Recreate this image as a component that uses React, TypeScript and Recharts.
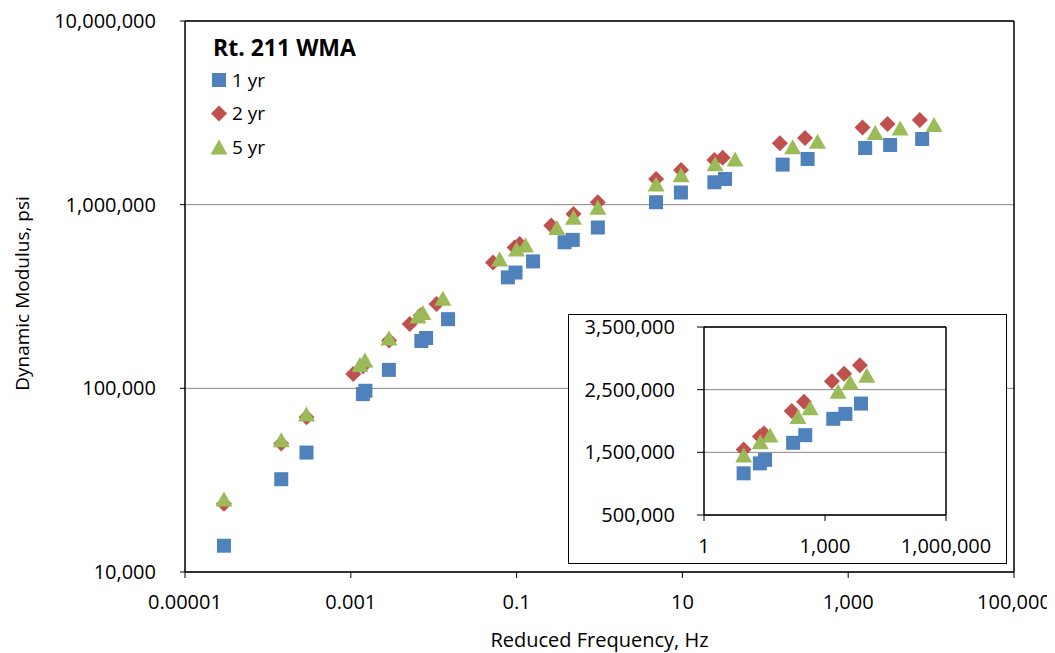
import { ScatterChart, Scatter, XAxis, YAxis, CartesianGrid, ReferenceLine } from 'recharts';

const BLUE = '#4F81BD';
const RED = '#C0504D';
const GREEN = '#9BBB59';

const freq1yr = [2.95e-5, 1.45e-4, 2.92e-4, 1.4e-3, 1.5e-3, 2.88e-3, 7.1e-3, 8.1e-3, 1.49e-2, 7.85e-2, 0.097, 0.158, 0.379, 0.476, 0.955, 4.8, 9.6, 24.3, 32.7, 162, 324, 1603, 3206, 7800];
const mod1yr = [13900, 32000, 44700, 93000, 97000, 126000, 181000, 188000, 238000, 402000, 427000, 491000, 624000, 643000, 751000, 1031000, 1165000, 1324000, 1380000, 1652000, 1774000, 2035000, 2113000, 2278000];

const freq2yr = [2.95e-5, 1.45e-4, 2.92e-4, 1.07e-3, 1.4e-3, 2.9e-3, 5.14e-3, 7.0e-3, 1.08e-2, 5.19e-2, 0.0946, 0.109, 0.262, 0.486, 0.955, 4.82, 9.64, 24.3, 30.6, 150, 301, 1487, 2980, 7310];
const mod2yr = [23500, 50000, 69500, 119500, 132000, 182000, 224000, 250000, 288000, 485000, 585000, 611000, 769000, 889000, 1030000, 1380000, 1546000, 1753000, 1800000, 2158000, 2307000, 2635000, 2752000, 2890000];

const freq5yr = [2.95e-5, 1.45e-4, 2.92e-4, 1.29e-3, 1.48e-3, 2.88e-3, 6.47e-3, 7.4e-3, 1.29e-2, 6.24e-2, 0.1, 0.128, 0.306, 0.486, 0.955, 4.82, 9.64, 24.8, 43.2, 214, 427, 2115, 4236, 10860];
const mod5yr = [25000, 52500, 72500, 135000, 142600, 188000, 248000, 259000, 309000, 506000, 574000, 603000, 752000, 853000, 967000, 1297000, 1456000, 1668000, 1775000, 2070000, 2212000, 2475000, 2618000, 2730000];

const xTicks = [0.00001, 0.001, 0.1, 10, 1000, 100000];
const yTicks = [10000, 100000, 1000000, 10000000];
const insetXTicks = [1, 1000, 1000000];
const insetYTicks = [500000, 1500000, 2500000, 3500000];

const toPoints = (f: number[], m: number[]) => f.map((x, i) => ({ x, y: m[i] }));
const data1 = toPoints(freq1yr, mod1yr);
const data2 = toPoints(freq2yr, mod2yr);
const data5 = toPoints(freq5yr, mod5yr);
// inset only shows the high-frequency end
const inset = (d: { x: number; y: number }[]) => d.filter((p) => p.x > 5);

const fmt = (v: number) => (v < 1 ? String(v) : v.toLocaleString('en-US'));

const Square = (p: any) => <rect x={p.cx - 7} y={p.cy - 7} width={14} height={14} fill={BLUE} />;
const Diamond = (p: any) => (
  <polygon points={`${p.cx},${p.cy - 8} ${p.cx + 8},${p.cy} ${p.cx},${p.cy + 8} ${p.cx - 8},${p.cy}`} fill={RED} />
);
const Triangle = (p: any) => (
  <polygon points={`${p.cx},${p.cy - 7.5} ${p.cx + 8.5},${p.cy + 7.5} ${p.cx - 8.5},${p.cy + 7.5}`} fill={GREEN} />
);

const series = [
  { name: '1 yr', data: data1, shape: Square },
  { name: '2 yr', data: data2, shape: Diamond },
  { name: '5 yr', data: data5, shape: Triangle },
];

const tickStyle = { fill: '#000', fontSize: 20, fontFamily: 'Open Sans' };

export default function App() {
  return (
    <div style={{ position: 'relative', width: 1047, height: 645, fontFamily: 'Open Sans', background: '#fff' }}>
      <style>{'.recharts-surface{overflow:visible}'}</style>
      <ScatterChart width={1047} height={645} margin={{ top: 13, right: 41, bottom: 0, left: 0 }}>
        <CartesianGrid horizontal vertical={false} stroke="#868686" />
        <XAxis
          type="number"
          dataKey="x"
          scale="log"
          domain={[0.00001, 100000]}
          ticks={xTicks}
          tickFormatter={fmt}
          allowDataOverflow
          height={81}
          tickSize={6}
          tickMargin={17}
          tick={tickStyle}
          axisLine={{ stroke: '#000', strokeWidth: 1.5 }}
          tickLine={{ stroke: '#000' }}
          label={(props: any) => {
            const vb = props.viewBox;
            return (
              <text x={vb.x + vb.width / 2} y={638.5} textAnchor="middle" fontSize={20} fontFamily="Open Sans" fill="#000">
                Reduced Frequency, Hz
              </text>
            );
          }}
        />
        <YAxis
          type="number"
          dataKey="y"
          scale="log"
          domain={[10000, 10000000]}
          ticks={yTicks}
          tickFormatter={fmt}
          allowDataOverflow
          width={177}
          tickSize={5}
          tickMargin={24}
          tick={tickStyle}
          axisLine={{ stroke: '#000', strokeWidth: 1.5 }}
          tickLine={{ stroke: '#000' }}
          label={(props: any) => {
            const vb = props.viewBox;
            const cy = vb.y + vb.height / 2 - 3;
            return (
              <text x={21} y={cy} transform={`rotate(-90 21 ${cy})`} textAnchor="middle" fontSize={19} fontFamily="Open Sans" fill="#000">
                Dynamic Modulus, psi
              </text>
            );
          }}
        />
        <ReferenceLine y={10000000} stroke="#000" strokeWidth={1.5} />
        <ReferenceLine x={100000} stroke="#000" strokeWidth={1.5} />
        {series.map((s) => (
          <Scatter key={s.name} name={s.name} data={s.data} shape={s.shape} isAnimationActive={false} />
        ))}
      </ScatterChart>

      <svg width={400} height={170} style={{ position: 'absolute', left: 0, top: 0, pointerEvents: 'none' }}>
        <text x={205} y={48} fontSize={23} fontWeight="bold" fontFamily="Open Sans" fill="#000">
          Rt. 211 WMA
        </text>
        {series.map((s, i) => {
          const S = s.shape;
          const cy = 72 + i * 33.5;
          return (
            <g key={s.name}>
              <S cx={211} cy={cy} />
              <text x={224} y={cy + 6.5} fontSize={19} fontFamily="Open Sans" fill="#000">
                {s.name}
              </text>
            </g>
          );
        })}
      </svg>

      <div
        style={{
          position: 'absolute',
          left: 560,
          top: 306,
          width: 439,
          height: 250,
          boxSizing: 'border-box',
          border: '1.5px solid #000',
          background: '#fff',
        }}
      >
        <ScatterChart width={436} height={247} margin={{ top: 12, right: 59, bottom: 0, left: 0 }}>
          <CartesianGrid horizontal vertical={false} stroke="#868686" />
          <XAxis
            type="number"
            dataKey="x"
            scale="log"
            domain={[1, 1000000]}
            ticks={insetXTicks}
            tickFormatter={fmt}
            allowDataOverflow
            height={47}
            tickSize={6}
            tickMargin={18}
            tick={tickStyle}
            axisLine={{ stroke: '#000', strokeWidth: 1.5 }}
            tickLine={{ stroke: '#000' }}
          />
          <YAxis
            type="number"
            dataKey="y"
            domain={[500000, 3500000]}
            ticks={insetYTicks}
            tickFormatter={fmt}
            allowDataOverflow
            width={135}
            tickSize={7}
            tickMargin={22}
            tick={tickStyle}
            axisLine={{ stroke: '#000', strokeWidth: 1.5 }}
            tickLine={{ stroke: '#000' }}
          />
          <ReferenceLine y={3500000} stroke="#000" strokeWidth={1.5} />
          <ReferenceLine x={1000000} stroke="#000" strokeWidth={1.5} />
          {series.map((s) => (
            <Scatter key={s.name} name={s.name} data={inset(s.data)} shape={s.shape} isAnimationActive={false} />
          ))}
        </ScatterChart>
      </div>
    </div>
  );
}
